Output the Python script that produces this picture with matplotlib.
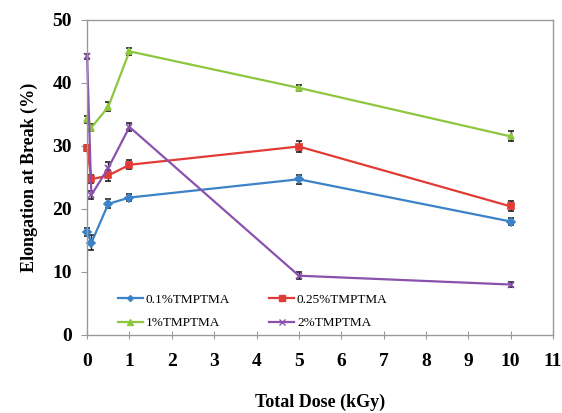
import matplotlib
matplotlib.use("Agg")
import matplotlib.pyplot as plt
from matplotlib.lines import Line2D

dose = [0, 0.1, 0.5, 1, 5, 10]
s01 = [16.3, 14.6, 20.8, 21.8, 24.7, 18.0]
s025 = [29.7, 24.7, 25.3, 27.0, 29.9, 20.4]
s1 = [34.2, 32.9, 36.2, 45.0, 39.2, 31.5]
s2 = [44.2, 22.2, 26.5, 33.0, 9.4, 8.0]
e01 = [0.6, 1.2, 0.7, 0.6, 0.7, 0.6]
e025 = [0.5, 0.6, 0.8, 0.7, 0.9, 0.8]
e1 = [0.5, 0.5, 0.7, 0.6, 0.5, 0.8]
e2 = [0.4, 0.6, 1.0, 0.6, 0.6, 0.4]
labels = ["0.1%TMPTMA", "0.25%TMPTMA", "1%TMPTMA", "2%TMPTMA"]
xticks = list(range(0, 12))
yticks = [0, 10, 20, 30, 40, 50]

plt.rcParams['font.family'] = ['Liberation Serif', 'DejaVu Serif']
fig = plt.figure(figsize=(5.62, 4.13), dpi=100)
ax = fig.add_axes([0.155, 0.189, 0.829, 0.763])

series = [
    (s01, e01, '#3b82c8', 'D', 4, labels[0]),
    (s025, e025, '#e23b35', 's', 5, labels[1]),
    (s1, e1, '#8dc63f', '^', 5, labels[2]),
    (s2, e2, '#8a52ad', 'x', 5, labels[3]),
]
for y, e, c, m, ms, lab in series:
    cont = ax.errorbar(dose, y, yerr=e, color=c, marker=m, markersize=ms, lw=1.6,
                       ecolor='#222222', elinewidth=1.0, capsize=2.5, capthick=1.0,
                       label=lab, markeredgewidth=1.2)
    for art in cont.get_children():
        art.set_clip_on(False)

ax.set_xlim(0, 11)
ax.set_ylim(0, 50)
ax.set_xticks(xticks)
ax.set_yticks(yticks)
for lbl in ax.get_xticklabels() + ax.get_yticklabels():
    lbl.set_fontweight('bold')
    lbl.set_fontsize(14)
ax.tick_params(axis='x', direction='inout', length=6, color='#999999', pad=10)
ax.tick_params(axis='y', direction='out', length=4, color='#999999', pad=7)
for sp in ax.spines.values():
    sp.set_color('#999999')
    sp.set_linewidth(1.0)

ax.set_xlabel('Total Dose (kGy)', fontsize=13, fontweight='bold', labelpad=17)
ax.set_ylabel('Elongation at Break (%)', fontsize=13, fontweight='bold', labelpad=10)

hs = [Line2D([0], [0], color=c, marker=m, markersize=ms - 1, lw=1.6)
      for _, _, c, m, ms, _ in series]
order = [0, 2, 1, 3]
ax.legend([hs[i] for i in order], [labels[i] for i in order], ncol=2,
          loc='lower left', bbox_to_anchor=(0.04, -0.02),
          frameon=False, fontsize=9.5, columnspacing=3.0, handlelength=1.9,
          handletextpad=0.2, labelspacing=0.85)

fig.savefig('out.png', dpi=100)
